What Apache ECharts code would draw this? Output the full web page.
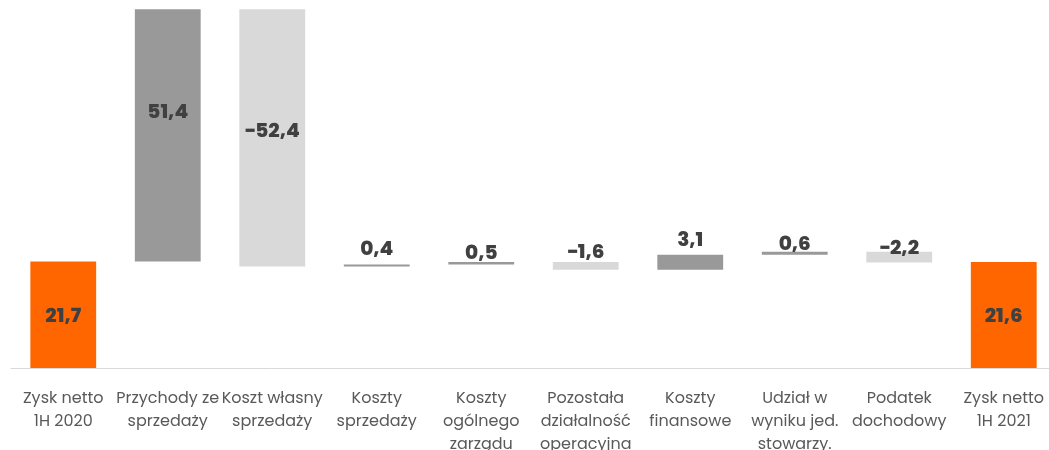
<!DOCTYPE html>
<html>
<head>
<meta charset="utf-8">
<script src="https://cdn.jsdelivr.net/npm/echarts@6/dist/echarts.min.js"></script>
<style>
  html, body { margin: 0; padding: 0; background: #fff; }
  #chart { width: 1049px; height: 450px; }
</style>
</head>
<body>
<div id="chart"></div>
<script>
var categories = [
  'Zysk netto\n1H 2020',
  'Przychody ze\nsprzedaży',
  'Koszt własny\nsprzedaży',
  'Koszty\nsprzedaży',
  'Koszty\nogólnego\nzarządu',
  'Pozostała\ndziałalność\noperacyjna',
  'Koszty\nfinansowe',
  'Udział w\nwyniku jed.\nstowarzy.',
  'Podatek\ndochodowy',
  'Zysk netto\n1H 2021'
];
var values = [21.7, 51.4, -52.4, 0.4, 0.5, -1.6, 3.1, 0.6, -2.2, 21.6];
var isTotal = [true, false, false, false, false, false, false, false, false, true];

var chart = echarts.init(document.getElementById('chart'));

// Vertical nudge of each value label, like the hand-placed labels of the original.
var labelShift = [2, -22, -6, 0, 6, 5, 0, 7, 11, 2];

var labelFont = {
  color: '#404040',
  fontFamily: 'Poppins, "Open Sans", sans-serif',
  fontWeight: 800,
  fontSize: 20
};

// Build the invisible base and the visible parts of the waterfall.
var baseData = [];
var upData = [];
var downData = [];
var totalData = [];
var running = 0;

for (var i = 0; i < values.length; i++) {
  var v = values[i];
  var text = (v < 0 ? '−' : '') + Math.abs(v).toFixed(1).replace('.', ',');
  var big = Math.abs(v) > 10;
  var lbl = Object.assign({
    show: true,
    formatter: text,
    position: big ? 'inside' : 'top',
    distance: 4,
    offset: [0, labelShift[i]]
  }, labelFont);

  if (isTotal[i]) {
    baseData.push(0);
    totalData.push({ value: v, label: lbl });
    upData.push('-');
    downData.push('-');
    running = v;
  } else if (v >= 0) {
    baseData.push(running);
    upData.push({ value: v, label: lbl });
    downData.push('-');
    totalData.push('-');
    running += v;
  } else {
    running += v;
    baseData.push(running);
    downData.push({ value: -v, label: lbl });
    upData.push('-');
    totalData.push('-');
  }
}

var option = {
  animation: false,
  grid: {
    left: 11,
    right: -7,
    top: 0,
    bottom: 82,
    containLabel: false,
    outerBoundsMode: 'none'
  },
  xAxis: {
    type: 'category',
    data: categories,
    axisTick: { show: false },
    axisLine: { lineStyle: { color: '#d9d9d9', width: 1 } },
    axisLabel: {
      interval: 0,
      margin: 19,
      color: '#595959',
      fontSize: 16,
      lineHeight: 23,
      fontFamily: 'Poppins, "Open Sans", sans-serif',
      verticalAlign: 'top'
    }
  },
  yAxis: {
    type: 'value',
    min: 0,
    max: 75,
    show: false,
    splitLine: { show: false }
  },
  series: [
    {
      name: 'base',
      type: 'bar',
      stack: 'w',
      barWidth: '63%',
      itemStyle: { color: 'transparent' },
      emphasis: { disabled: true },
      data: baseData
    },
    {
      name: 'up',
      type: 'bar',
      stack: 'w',
      itemStyle: { color: '#999999' },
      data: upData
    },
    {
      name: 'down',
      type: 'bar',
      stack: 'w',
      itemStyle: { color: '#d9d9d9' },
      data: downData
    },
    {
      name: 'total',
      type: 'bar',
      stack: 'w',
      itemStyle: { color: '#ff6600' },
      data: totalData
    }
  ]
};

chart.setOption(option);
</script>
</body>
</html>
